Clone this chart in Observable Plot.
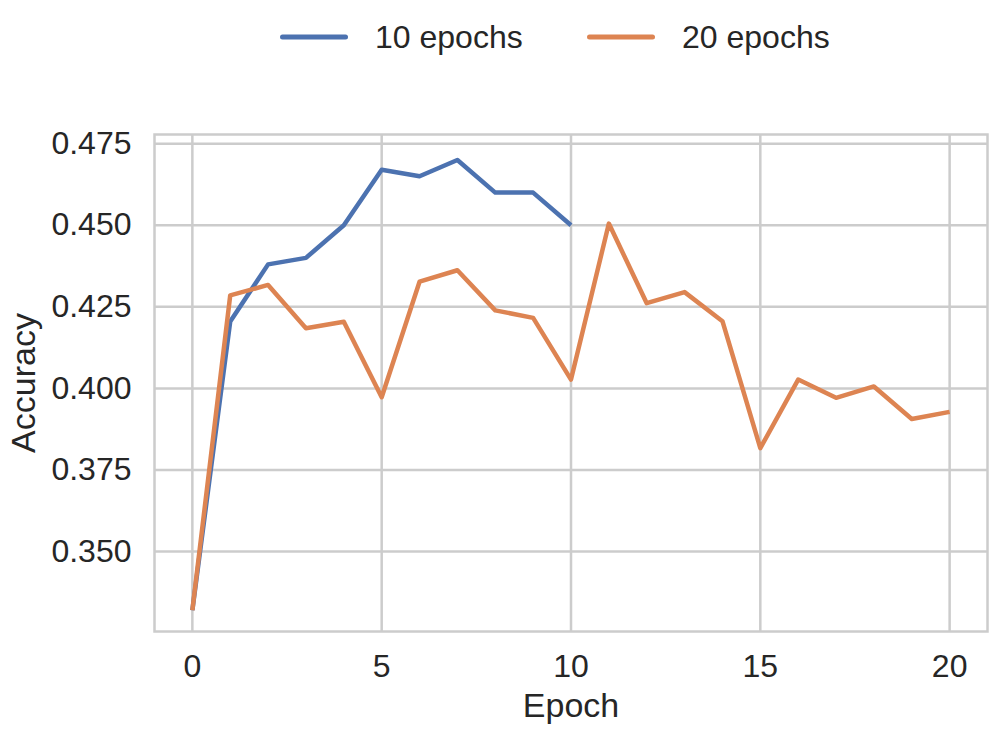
<!DOCTYPE html>
<html>
<head>
<meta charset="utf-8">
<script src="https://cdn.jsdelivr.net/npm/d3@7"></script>
<script src="https://cdn.jsdelivr.net/npm/@observablehq/plot@0.6"></script>
<style>
  html, body { margin: 0; padding: 0; background: #fff; }
  body { width: 997px; height: 734px; overflow: hidden; font-family: "Liberation Sans", Arial, sans-serif; color: #262626; }
  #legend { position: relative; height: 80px; width: 997px; }
  .item { position: absolute; top: 37px; transform: translateY(-50%); display: flex; align-items: center; font-size: 32px; }
  .swatch { width: 68px; height: 5px; border-radius: 3px; margin-right: 27px; }
</style>
</head>
<body>
<div id="legend"></div>
<div id="chart"></div>
<script>
const seriesNames = ["10 epochs", "20 epochs"];
const seriesColors = ["#4C72B0", "#DD8452"];
const epochs10 = [0, 1, 2, 3, 4, 5, 6, 7, 8, 9, 10];
const acc10 = [0.332, 0.4205, 0.438, 0.440, 0.450, 0.467, 0.465, 0.470, 0.460, 0.460, 0.450];
const epochs20 = [0, 1, 2, 3, 4, 5, 6, 7, 8, 9, 10, 11, 12, 13, 14, 15, 16, 17, 18, 19, 20];
const acc20 = [0.332, 0.4285, 0.4317, 0.4184, 0.4204, 0.3973, 0.4327, 0.4362, 0.4239, 0.4216, 0.4027,
               0.4505, 0.4261, 0.4295, 0.4206, 0.3817, 0.4027, 0.3971, 0.4006, 0.3906, 0.3928];
const yTicks = [0.350, 0.375, 0.400, 0.425, 0.450, 0.475];
const xTicks = [0, 5, 10, 15, 20];

const data = [
  ...epochs10.map((e, i) => ({epoch: e, acc: acc10[i], series: seriesNames[0]})),
  ...epochs20.map((e, i) => ({epoch: e, acc: acc20[i], series: seriesNames[1]}))
];

// legend
const legend = document.getElementById("legend");
const legendLeft = [280, 587];
seriesNames.forEach((name, i) => {
  const it = document.createElement("div");
  it.className = "item";
  it.style.left = legendLeft[i] + "px";
  it.innerHTML = `<div class="swatch" style="background:${seriesColors[i]}"></div><span>${name}</span>`;
  legend.appendChild(it);
});

const grid = "#cccccc";
const chart = Plot.plot({
  width: 997,
  height: 654,
  marginTop: 54,
  marginBottom: 103,
  marginLeft: 154,
  marginRight: 10,
  style: {fontFamily: '"Liberation Sans", Arial, sans-serif', fontSize: "32px", color: "#262626", background: "#fff"},
  x: {domain: [-1, 21]},
  y: {domain: [0.3255, 0.4778]},
  color: {domain: seriesNames, range: seriesColors},
  marks: [
    Plot.gridX(xTicks, {stroke: grid, strokeOpacity: 1, strokeWidth: 2.5}),
    Plot.gridY(yTicks, {stroke: grid, strokeOpacity: 1, strokeWidth: 2.5}),
    Plot.frame({stroke: grid, strokeWidth: 2.5}),
    Plot.axisX(xTicks, {tickSize: 0, tickPadding: 23, fontSize: 32, label: null}),
    Plot.axisX({tickSize: 0, ticks: [], label: "Epoch", fontSize: 34, labelAnchor: "center", labelArrow: "none", labelOffset: 85}),
    Plot.axisY(yTicks, {tickSize: 0, tickPadding: 23, fontSize: 32, tickFormat: d3.format(".3f"), label: null}),
    Plot.axisY({tickSize: 0, ticks: [], label: "Accuracy", fontSize: 34, labelAnchor: "center", labelArrow: "none", labelOffset: 144}),
    Plot.line(data, {x: "epoch", y: "acc", z: "series", stroke: "series", strokeWidth: 4.5, strokeLinejoin: "round", strokeLinecap: "butt"})
  ]
});
document.getElementById("chart").appendChild(chart);
</script>
</body>
</html>
